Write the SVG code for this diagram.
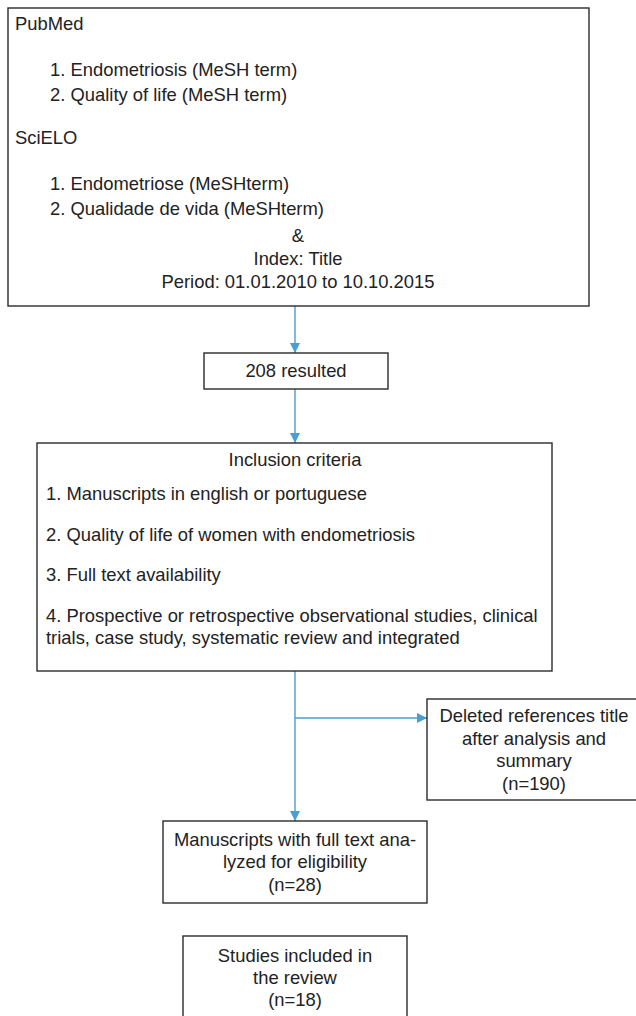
<svg xmlns="http://www.w3.org/2000/svg" width="636" height="1016" viewBox="0 0 636 1016">
<defs>
<style>
.box{fill:#fff;stroke:#2b2b2b;stroke-width:1.4}
.t{font-family:"Liberation Sans",Arial,sans-serif;font-size:18.4px;fill:#222}
.c{text-anchor:middle}
.con{fill:none;stroke:#4a9fd0;stroke-width:1.4}
</style>
<marker id="ah" viewBox="0 0 10 10" refX="10" refY="5" markerWidth="10" markerHeight="10" markerUnits="userSpaceOnUse" orient="auto">
<path d="M0,0 L10,5 L0,10 Z" fill="#4a9fd0"/>
</marker>
</defs>
<rect width="636" height="1016" fill="#fff"/>
<g id="connectors">
<line class="con" x1="295" y1="306" x2="295" y2="353" marker-end="url(#ah)"/>
<line class="con" x1="295" y1="389" x2="295" y2="443" marker-end="url(#ah)"/>
<line class="con" x1="295" y1="671" x2="295" y2="821" marker-end="url(#ah)"/>
<line class="con" x1="295" y1="718" x2="427" y2="718" marker-end="url(#ah)"/>
</g>
<g id="search">
<rect class="box" x="8" y="8" width="581" height="298"/>
<text class="t" x="15" y="30">PubMed</text>
<text class="t" x="50" y="76">1. Endometriosis (MeSH term)</text>
<text class="t" x="50" y="101">2. Quality of life (MeSH term)</text>
<text class="t" x="15" y="144">SciELO</text>
<text class="t" x="50" y="190">1. Endometriose (MeSHterm)</text>
<text class="t" x="50" y="215">2. Qualidade de vida (MeSHterm)</text>
<text class="t c" x="298" y="242">&amp;</text>
<text class="t c" x="298" y="265">Index: Title</text>
<text class="t c" x="298" y="288">Period: 01.01.2010 to 10.10.2015</text>
</g>
<g id="resulted">
<rect class="box" x="204" y="353" width="184" height="36"/>
<text class="t c" x="296" y="377">208 resulted</text>
</g>
<g id="inclusion">
<rect class="box" x="37" y="443" width="515" height="228"/>
<text class="t c" x="295" y="466">Inclusion criteria</text>
<text class="t" x="46" y="500">1. Manuscripts in english or portuguese</text>
<text class="t" x="46" y="541">2. Quality of life of women with endometriosis</text>
<text class="t" x="46" y="581">3. Full text availability</text>
<text class="t" x="46" y="622">4. Prospective or retrospective observational studies, clinical</text>
<text class="t" x="46" y="644">trials, case study, systematic review and integrated</text>
</g>
<g id="deleted">
<rect class="box" x="427" y="699" width="214" height="101"/>
<text class="t c" x="534" y="722">Deleted references title</text>
<text class="t c" x="534" y="745">after analysis and</text>
<text class="t c" x="534" y="767">summary</text>
<text class="t c" x="534" y="790">(n=190)</text>
</g>
<g id="manuscripts">
<rect class="box" x="163" y="821" width="264" height="82"/>
<text class="t c" x="295" y="846">Manuscripts with full text ana-</text>
<text class="t c" x="295" y="868">lyzed for eligibility</text>
<text class="t c" x="295" y="891">(n=28)</text>
</g>
<g id="studies">
<rect class="box" x="183" y="936" width="224" height="90"/>
<text class="t c" x="295" y="962">Studies included in</text>
<text class="t c" x="295" y="984">the review</text>
<text class="t c" x="295" y="1006">(n=18)</text>
</g>
</svg>
